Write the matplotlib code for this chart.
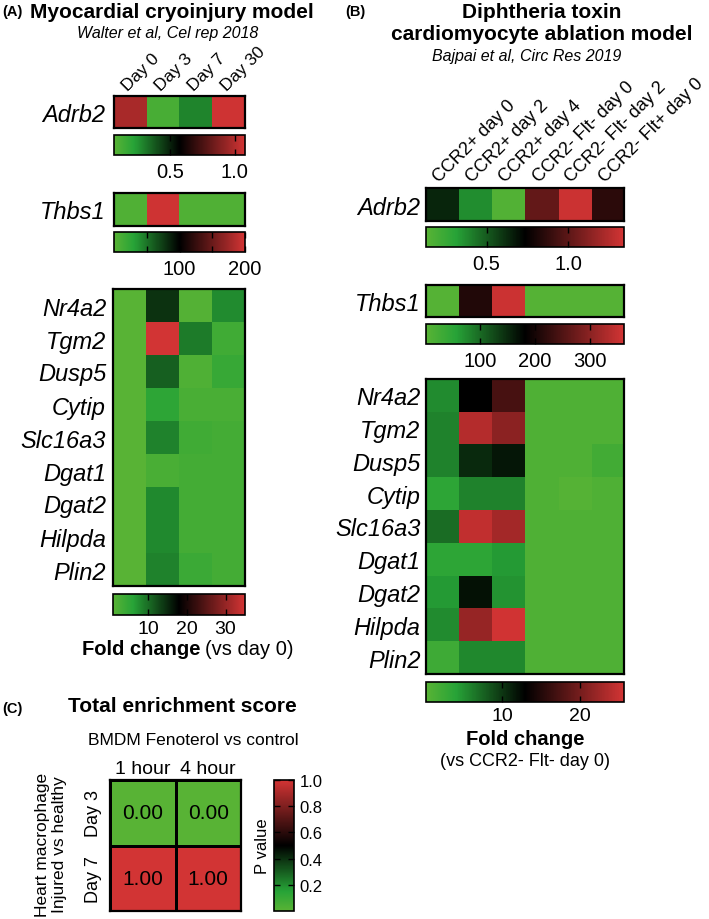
import numpy as np
import matplotlib
matplotlib.use('Agg')
import matplotlib.pyplot as plt
from matplotlib.colors import LinearSegmentedColormap

plt.rcParams['font.family'] = ['Liberation Sans', 'DejaVu Sans']

# ---------------- data ----------------
days = ['Day 0', 'Day 3', 'Day 7', 'Day 30']
genes = ['Nr4a2', 'Tgm2', 'Dusp5', 'Cytip', 'Slc16a3', 'Dgat1', 'Dgat2', 'Hilpda', 'Plin2']

a_adrb2 = [0.98, 0.12, 0.29, 1.07]
a_thbs1 = [5, 198, 5, 5]
a_day0 = [1, 1, 1, 1, 1, 1, 1, 1, 1]
a_day3 = [14.4, 35, 11, 5.4, 8.5, 2.5, 8, 8, 8.5]
a_day7 = [1.5, 9, 2, 2.5, 3.5, 3, 3, 3, 4]
a_day30 = [7.8, 3.4, 4.4, 2.5, 3, 3, 3, 3, 3]

b_groups = ['CCR2+ day 0', 'CCR2+ day 2', 'CCR2+ day 4',
            'CCR2- Flt- day 0', 'CCR2- Flt- day 2', 'CCR2- Flt+ day 0']
b_adrb2 = [0.64, 0.37, 0.15, 1.02, 1.32, 0.86]
b_thbs1 = [5, 211, 355, 5, 5, 5]
b_pos_d0 = [5.4, 5.9, 5.9, 3.6, 7.1, 3.6, 4.6, 5.4, 2.3]
b_pos_d2 = [12.9, 23.8, 10.7, 5.9, 24.6, 3.6, 12.0, 22.0, 5.6]
b_pos_d4 = [17.2, 21.3, 11.7, 5.9, 22.8, 4.6, 5.0, 25.5, 5.6]
b_neg_d0 = [1, 1, 1, 1, 1, 1, 1, 1, 1]
b_neg_d2 = [1, 1, 1, 0.5, 1, 1, 1, 1, 1]
b_flt_d0 = [1, 1, 2, 1, 1, 1, 1, 1, 1]

c_cols = ['1 hour', '4 hour']
c_rows = ['Day 3', 'Day 7']
c_pvals = [[0.00, 0.00], [1.00, 1.00]]

# ---------------- figure ----------------
W, H = 709, 920
fig = plt.figure(figsize=(W / 100, H / 100), dpi=100)

cmap = LinearSegmentedColormap.from_list(
    'gbr', [(0.0, '#58b335'), (0.15, '#27a337'), (0.5, '#000000'), (1.0, '#d23434')])


def ax_px(x0, y0, x1, y1):
    return fig.add_axes([x0 / W, 1 - y1 / H, (x1 - x0) / W, (y1 - y0) / H])


def ftext(x, y, s, **kw):
    return fig.text(x / W, 1 - y / H, s, **kw)


def heat(box, data, vmin, vmax, rows, cols=None, ypad=5, cfs=12.5):
    ax = ax_px(*box)
    m = ax.imshow(np.array(data, dtype=float), cmap=cmap, vmin=vmin, vmax=vmax,
                  aspect='auto', interpolation='nearest')
    ax.set_yticks(range(len(rows)))
    ax.set_yticklabels(rows, style='italic', fontsize=17)
    ax.tick_params(axis='y', length=0, pad=ypad)
    if cols is not None:
        ax.set_xticks(range(len(cols)))
        ax.set_xticklabels(cols, rotation=45, ha='left', va='bottom',
                           rotation_mode='anchor', fontsize=cfs)
        ax.tick_params(axis='x', top=True, bottom=False, labeltop=True,
                       labelbottom=False, length=0, pad=2)
    else:
        ax.set_xticks([])
    for s in ax.spines.values():
        s.set_linewidth(1.6)
    return ax, m


def cbar(box, m, ticks, labels, fs=14.5, pad=5):
    cax = ax_px(*box)
    cb = fig.colorbar(m, cax=cax, orientation='horizontal')
    cb.set_ticks(ticks)
    cb.set_ticklabels(labels)
    cax.minorticks_off()
    cax.xaxis.set_ticks_position('both')
    cax.tick_params(axis='x', direction='in', length=4, width=1, labelsize=fs,
                    pad=pad, top=True, bottom=True, labeltop=False, labelbottom=True)
    cb.outline.set_linewidth(1.2)
    return cb


# ---------------- panel A ----------------
ftext(2, 16, '(A)', fontsize=10.5, fontweight='bold', va='baseline')
ftext(172, 18, 'Myocardial cryoinjury model', fontsize=15, fontweight='bold',
      ha='center', va='baseline')
ftext(168, 38, 'Walter et al, Cel rep 2018', fontsize=11.5, style='italic',
      ha='center', va='baseline')

ax, m = heat((114, 97, 245, 129), [a_adrb2], 0.07, 1.08, ['Adrb2'], days, ypad=6)
cbar((114, 136, 245, 156), m, [0.5, 1.0], ['0.5', '1.0'])

ax, m = heat((114, 194, 245, 227), [a_thbs1], 0, 200, ['Thbs1'], None, ypad=6)
cbar((114, 233, 245, 253), m, [50, 100, 150, 200], ['', '100', '', '200'])

a_mat = np.array([a_day0, a_day3, a_day7, a_day30]).T
ax, m = heat((113, 290, 245, 587), a_mat, 1, 35, genes, None, ypad=5)
cbar((113, 595, 245, 616), m, [10, 20, 30], ['10', '20', '30'], fs=14, pad=3.5)
ftext(200, 655, 'Fold change', fontsize=14.5, fontweight='bold', ha='right', va='baseline')
ftext(205, 655, '(vs day 0)', fontsize=14.5, ha='left', va='baseline')

# ---------------- panel B ----------------
ftext(345, 16, '(B)', fontsize=10.5, fontweight='bold', va='baseline')
ftext(542, 18, 'Diphtheria toxin', fontsize=15, fontweight='bold', ha='center', va='baseline')
ftext(542, 40, 'cardiomyocyte ablation model', fontsize=15, fontweight='bold',
      ha='center', va='baseline')
ftext(527, 61, 'Bajpai et al, Circ Res 2019', fontsize=11.5, style='italic',
      ha='center', va='baseline')

ax, m = heat((426, 189, 624, 222), [b_adrb2], 0.13, 1.34, ['Adrb2'], b_groups,
             ypad=4, cfs=13)
cbar((426, 228, 624, 248), m, [0.5, 1.0], ['0.5', '1.0'])

ax, m = heat((426, 286, 624, 318), [b_thbs1], 2, 362, ['Thbs1'], None, ypad=4)
cbar((426, 325, 624, 345), m, [100, 200, 300], ['100', '200', '300'])

b_mat = np.array([b_pos_d0, b_pos_d2, b_pos_d4, b_neg_d0, b_neg_d2, b_flt_d0]).T
ax, m = heat((426, 380, 624, 675), b_mat, 0.3, 25.6, genes, None, ypad=4)
cbar((426, 683, 624, 703), m, [10, 20], ['10', '20'], fs=14, pad=3.5)
ftext(525, 745, 'Fold change', fontsize=14.5, fontweight='bold', ha='center', va='baseline')
ftext(525, 766, '(vs CCR2- Flt- day 0)', fontsize=13, ha='center', va='baseline')

# ---------------- panel C ----------------
ftext(2, 713, '(C)', fontsize=10.5, fontweight='bold', va='baseline')
ftext(182, 712, 'Total enrichment score', fontsize=15, fontweight='bold',
      ha='center', va='baseline')
ftext(193, 745, 'BMDM Fenoterol vs control', fontsize=12.5, ha='center', va='baseline')

axc = ax_px(110, 781, 241, 912)
cvals = np.array(c_pvals)
mc = axc.pcolormesh(cvals, cmap=cmap, vmin=0, vmax=1, edgecolors='black', linewidth=0.8)
axc.set_xlim(0, 2)
axc.set_ylim(2, 0)
for i in range(cvals.shape[0]):
    for j in range(cvals.shape[1]):
        axc.text(j + 0.5, i + 0.5, f'{cvals[i, j]:.2f}', ha='center', va='center', fontsize=15)
axc.set_xticks([0.5, 1.5])
axc.set_xticklabels(c_cols, fontsize=14)
axc.xaxis.tick_top()
axc.set_yticks([0.5, 1.5])
axc.set_yticklabels(c_rows, rotation=90, va='center', fontsize=13)
axc.tick_params(length=0)
axc.tick_params(axis='y', pad=6)
axc.tick_params(axis='x', pad=2)
for s in axc.spines.values():
    s.set_linewidth(1.6)
ftext(51, 845, 'Heart macrophage\nInjured vs healthy', fontsize=12.5, rotation=90,
      ha='center', va='center', multialignment='center')

caxc = ax_px(274, 781, 294, 912)
cbc = fig.colorbar(mc, cax=caxc)
cbc.set_ticks([0.2, 0.4, 0.6, 0.8, 1.0])
cbc.set_ticklabels(['0.2', '0.4', '0.6', '0.8', '1.0'])
caxc.minorticks_off()
caxc.yaxis.set_ticks_position('both')
caxc.tick_params(axis='y', direction='in', length=4, width=1, labelsize=12,
                 left=True, right=True, labelleft=False, labelright=True, pad=4)
caxc.yaxis.set_label_position('left')
caxc.set_ylabel('P value', fontsize=12, labelpad=3)
cbc.outline.set_linewidth(1.2)

fig.savefig('out.png', dpi=100)
